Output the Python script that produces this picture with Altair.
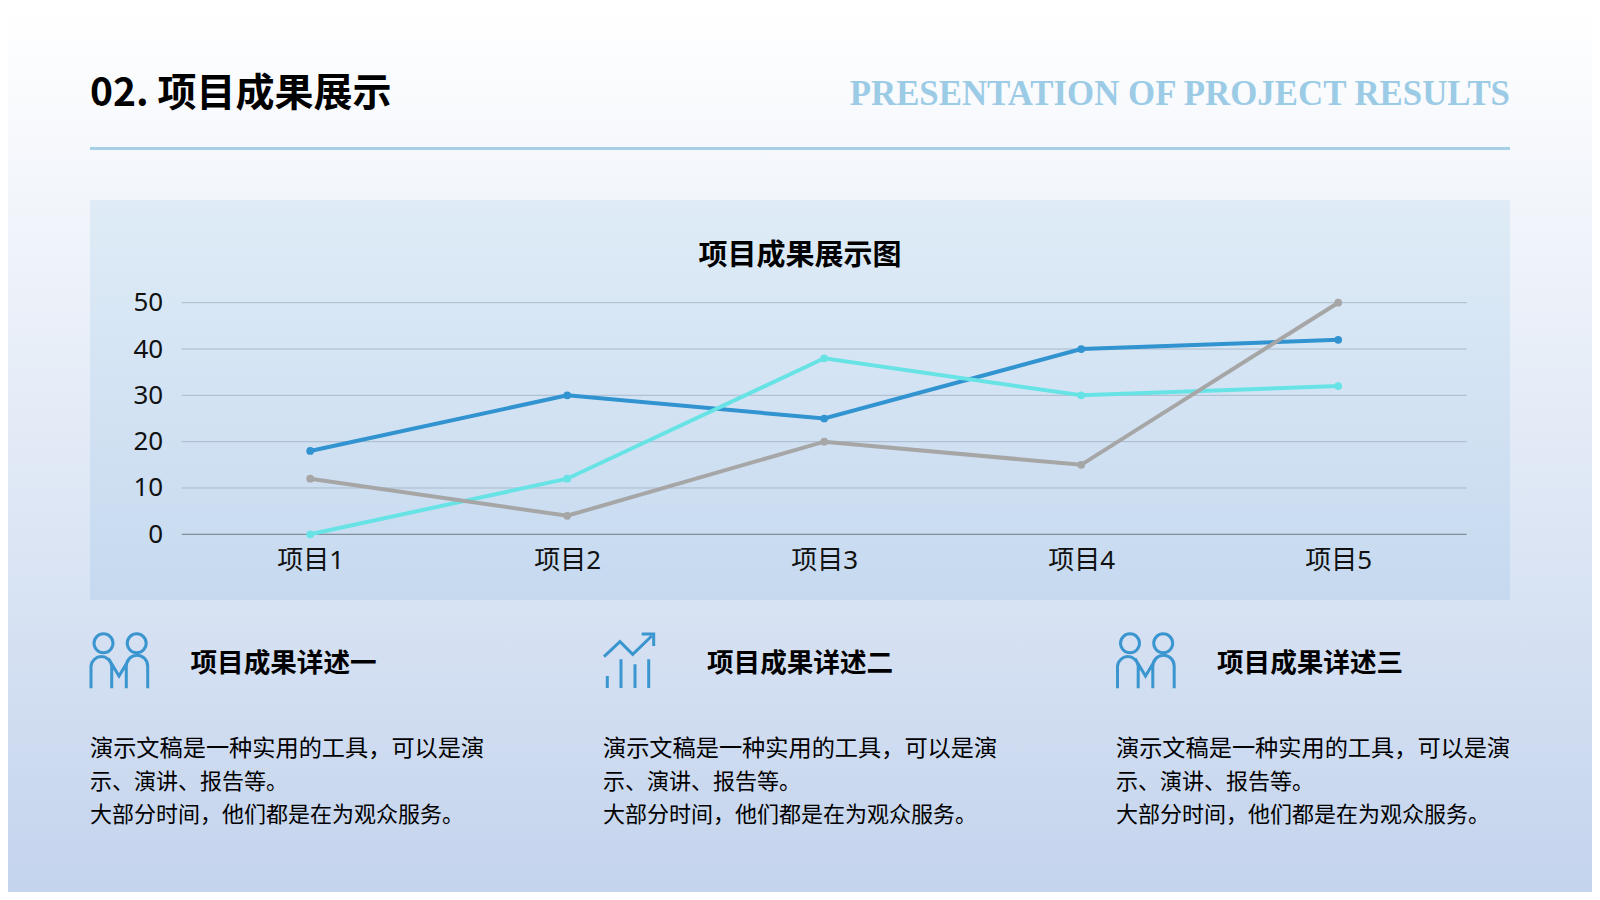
import altair as alt
import pandas as pd

# ---------- chart data ----------
categories = ["项目1", "项目2", "项目3", "项目4", "项目5"]
series_a = [18, 30, 25, 40, 42]
series_b = [0, 12, 38, 30, 32]
series_c = [12, 4, 20, 15, 50]
series_names = ["系列1", "系列2", "系列3"]
series_colors = ["#3193cf", "#68e3e5", "#a6a6a6"]
y_ticks = [0, 10, 20, 30, 40, 50]

# ---------- texts ----------
title_text = "02. 项目成果展示"
title_en = "PRESENTATION OF PROJECT RESULTS"
chart_title = "项目成果展示图"
section_titles = ["项目成果详述一", "项目成果详述二", "项目成果详述三"]
body_lines = ["演示文稿是一种实用的工具，可以是演", "示、演讲、报告等。", "大部分时间，他们都是在为观众服务。"]
body_sizes = [23.2, 22, 22]

FONT = "Noto Sans CJK SC"
AXIS_FONT = "Noto Sans, Noto Sans CJK SC"

# ---------- layout (page px) ----------
OX, OY = 8, 8
PL, PT, PR, PB = 181.7, 302.7, 1466.7, 534.3
W, H = PR - PL, PB - PT
PAGE_W, PAGE_H = 1584, 884


def gx(v):
    return v - PL


def gy(v):
    return v - PT


one = alt.Data(values=[{"a": 1}])


def grad(stops):
    return alt.LinearGradient(
        gradient="linear", x1=0, y1=0, x2=0, y2=1,
        stops=[alt.GradientStop(offset=o, color=c) for o, c in stops],
    )


def box(x0, y0, x1, y1, fill):
    return alt.Chart(one).mark_rect(fill=fill, stroke=None).encode(
        x=alt.value(gx(x0)), x2=alt.value(gx(x1)), y=alt.value(gy(y0)), y2=alt.value(gy(y1))
    )


def label(text, x, y, size, color="#000000", weight="normal", align="left", font=FONT):
    return alt.Chart(one).mark_text(
        text=text, fontSize=size, color=color, fontWeight=weight, align=align,
        baseline="middle", font=font,
    ).encode(x=alt.value(gx(x)), y=alt.value(gy(y)))


ICON = "#3b96cf"


def icon(path, cx, cy):
    return alt.Chart(one).mark_point(
        shape=path, size=4, filled=False, stroke=ICON, strokeWidth=3, opacity=1, strokeCap="butt"
    ).encode(x=alt.value(gx(cx)), y=alt.value(gy(cy)))


people = (
    "M-6.5 -21.7 A9.5 9.5 0 1 1 -25.5 -21.7 A9.5 9.5 0 1 1 -6.5 -21.7 Z "
    "M26.7 -21.7 A9.5 9.5 0 1 1 7.7 -21.7 A9.5 9.5 0 1 1 26.7 -21.7 Z "
    "M-28.5 23.3 V1 A10.4 10.4 0 0 1 -7.8 1 V23.3 "
    "M-11 -6.5 L-0.5 11 L10 -6.5 "
    "M6.8 23.3 V1 A10.7 10.7 0 0 1 28.2 1 V23.3"
)
trend = (
    "M-24 -8.3 L-8 -23.3 L4.7 -10.7 L23.7 -29 "
    "M13.7 -31 H25.7 V-19 "
    "M-20.7 11 V23 M-7 -5.7 V23 M7 -0.7 V23 M20.7 -5.7 V23"
)

# ---------- decoration layers ----------
layers = [
    box(OX, OY, OX + PAGE_W, OY + PAGE_H, grad([(0, "#ffffff"), (1, "#c4d4ed")])),
    box(90, 147, 1510, 150, "#a8cfe8"),
    box(90, 200, 1510, 600, grad([(0, "#dfecf7"), (1, "#c6d9ef")])),
    label(title_text, 90, 94, 39, weight="bold"),
    label(title_en, 1510, 95, 34.85, color="#9ccbe6", weight="bold", align="right", font="Liberation Serif"),
    label(chart_title, 800, 256, 29, weight="bold", align="center"),
]

col_x = [90, 603, 1116]
head_x = [190.5, 707, 1217]
for cx, hx, st in zip(col_x, head_x, section_titles):
    layers.append(label(st, hx, 664, 26.6, weight="bold"))
    for ly, line, fs in zip([749, 782, 815], body_lines, body_sizes):
        layers.append(label(line, cx, ly, fs))

layers += [
    icon(people, 119.5, 665),
    icon(trend, 628, 665),
    icon(people, 1146, 665),
]

# ---------- scales / axes ----------
y_scale = alt.Scale(domain=[0, 50], nice=False, zero=False)
x_scale = alt.Scale(type="point", domain=categories, padding=0.5)
y_axis = alt.Axis(
    values=y_ticks, ticks=False, domain=False, grid=False, labelFont=AXIS_FONT, labelFontSize=26,
    labelColor="#111111", labelPadding=19, zindex=1,
)

# ---------- grid ----------
grid_df = pd.DataFrame({"v": y_ticks[1:]})
layers.append(
    alt.Chart(grid_df).mark_rule(color="#a9bacb", strokeWidth=1).encode(
        y=alt.Y("v:Q", scale=y_scale, axis=y_axis, title=None), x=alt.value(0), x2=alt.value(W)
    )
)
zero_df = pd.DataFrame({"v": y_ticks[:1]})
layers.append(
    alt.Chart(zero_df).mark_rule(color="#6f7b88", strokeWidth=1).encode(
        y=alt.Y("v:Q", scale=y_scale, axis=y_axis, title=None), x=alt.value(0), x2=alt.value(W)
    )
)

# ---------- series ----------
rows = []
for name, vals in zip(series_names, [series_a, series_b, series_c]):
    for c, v in zip(categories, vals):
        rows.append({"cat": c, "val": v, "series": name})
df = pd.DataFrame(rows)

color = alt.Color("series:N", scale=alt.Scale(domain=series_names, range=series_colors), legend=None)
x_enc = alt.X(
    "cat:N", scale=x_scale, sort=categories, title=None,
    axis=alt.Axis(
        labelAngle=0, ticks=False, domain=False, grid=False, labelFont=AXIS_FONT, labelFontSize=26,
        labelColor="#111111", labelPadding=13, zindex=1,
    ),
)
y_enc = alt.Y("val:Q", scale=y_scale, title=None, axis=y_axis)
for name in series_names:
    sub = df[df["series"] == name]
    layers.append(
        alt.Chart(sub).mark_line(strokeWidth=4, point=alt.OverlayMarkDef(size=60, filled=True, opacity=1)).encode(
            x=x_enc, y=y_enc, color=color
        )
    )

chart = (
    alt.layer(*layers)
    .properties(
        width=W,
        height=H,
        padding={"left": PL - OX, "top": PT - OY, "right": OX + PAGE_W - PR, "bottom": OY + PAGE_H - PB},
        autosize=alt.AutoSizeParams(type="none"),
    )
    .configure_view(stroke=None)
)

chart.save("out.html", embed_options={"renderer": "svg", "actions": False})
